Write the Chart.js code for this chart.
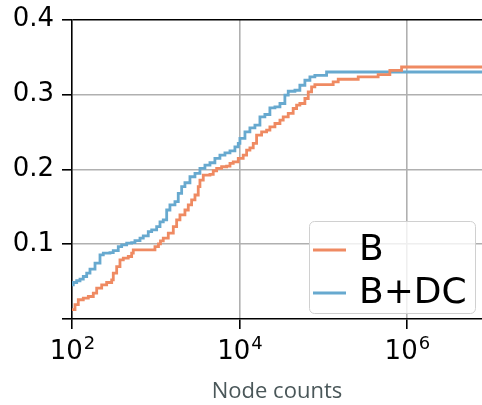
<!DOCTYPE html>
<html>
<head>
<meta charset="utf-8">
<script src="https://cdn.jsdelivr.net/npm/chart.js@4/dist/chart.umd.min.js"></script>
<style>
  html, body { margin: 0; padding: 0; background: #fff; }
  #wrap { width: 482px; height: 405px; }
</style>
</head>
<body>
<div id="wrap"><canvas id="chartNodos"></canvas></div>
<script>
// -------------------------------------------------------
// Datos (CDF de node counts)
// -------------------------------------------------------
const nodesB = [100, 108.6, 118.9, 136.4, 156.6, 179.6, 197.2, 226.3, 259.4, 297.9,
  311.3, 341.7, 374.2, 409.9, 470, 516, 539.5, 979.5, 1079, 1140, 1231, 1413, 1622,
  1778, 1948, 2234, 2449, 2685, 2944, 3221, 3375, 3698, 4446, 4867, 5346, 6124, 7031,
  7709, 8433, 9683, 11090, 12190, 13340, 14620, 16030, 18410, 21130, 23120, 26550,
  30480, 33340, 38280, 43850, 48190, 52720, 60530, 66370, 72780, 79620, 131800,
  151400, 262400, 454000, 626600, 864800, 7.9e6];
const cdfB = [0.0124, 0.0191, 0.0257, 0.028, 0.0301, 0.0347, 0.0413, 0.0457, 0.0488, 0.0524,
  0.0613, 0.0701, 0.0791, 0.0813, 0.0835, 0.088, 0.0924, 0.0968, 0.1004, 0.1044, 0.108,
  0.1147, 0.1235, 0.1324, 0.1391, 0.1457, 0.1524, 0.1591, 0.1657, 0.1768, 0.1857,
  0.1924, 0.1933, 0.1981, 0.2013, 0.2035, 0.2044, 0.208, 0.2101, 0.2147, 0.2191,
  0.2257, 0.2288, 0.2347, 0.2457, 0.2501, 0.2524, 0.2568, 0.2613, 0.2657, 0.2701,
  0.2747, 0.2813, 0.2857, 0.288, 0.2947, 0.3035, 0.3101, 0.3133, 0.3168, 0.3204,
  0.3235, 0.3267, 0.3324, 0.3368, 0.3368];

const nodesBDC = [100, 103.6, 113.8, 124.6, 136.4, 149.8, 164, 188.3, 216, 236.5, 284,
  311, 357, 392, 450, 516, 565, 649, 710, 815, 895, 1026, 1125, 1231, 1352, 1479, 1698,
  1859, 2041, 2234, 2564, 2944, 3375, 3873, 4446, 5093, 5848, 6714, 7709, 8831, 9683,
  10140, 11640, 13340, 15310, 17580, 20140, 23120, 26550, 30480, 34910, 38280, 46030,
  52720, 60530, 69500, 79620, 109900, 7.9e6];
const cdfBDC = [0.0457, 0.0488, 0.0511, 0.0533, 0.0568, 0.0613, 0.0667, 0.0747, 0.0857,
  0.088, 0.0888, 0.0915, 0.0968, 0.0991, 0.1013, 0.1021, 0.1048, 0.108, 0.111, 0.1168,
  0.119, 0.1235, 0.1297, 0.1324, 0.1457, 0.1524, 0.1568, 0.168, 0.1768, 0.1821, 0.1901,
  0.1947, 0.2013, 0.2057, 0.2088, 0.2147, 0.2191, 0.2221, 0.2248, 0.2301, 0.2347,
  0.2413, 0.2501, 0.2555, 0.2591, 0.2701, 0.2733, 0.2821, 0.2835, 0.288, 0.2991,
  0.3044, 0.3057, 0.3124, 0.3191, 0.3235, 0.3257, 0.3301, 0.3301];

const xTicks = [1e2, 1e4, 1e6];
const yTicks = [0, 0.1, 0.2, 0.3, 0.4];
const seriesLabels = ['B', 'B+DC'];

const colorB   = '#ef8a62';
const colorBDC = '#67a9cf';

// -------------------------------------------------------
// Etiquetas 10^n con exponente real (superíndice)
// -------------------------------------------------------
const etiquetasLog = {
  id: 'etiquetasLog',
  afterDraw(chart) {
    const { ctx } = chart;
    const sx = chart.scales.x;
    ctx.save();
    ctx.fillStyle = '#000';
    ctx.textBaseline = 'alphabetic';
    xTicks.forEach(v => {
      const px = sx.getPixelForValue(v);
      const base = '10', exp = String(Math.round(Math.log10(v)));
      ctx.font = '26px "DejaVu Sans"';
      const wb = ctx.measureText(base).width;
      ctx.font = '18px "DejaVu Sans"';
      const we = ctx.measureText(exp).width;
      const x0 = px - (wb + we) / 2;
      ctx.font = '26px "DejaVu Sans"';
      ctx.fillText(base, x0, 359);
      ctx.font = '18px "DejaVu Sans"';
      ctx.fillText(exp, x0 + wb + 1, 349);
    });
    ctx.restore();
  }
};

// -------------------------------------------------------
// Leyenda dentro del área (esquina inferior derecha)
// -------------------------------------------------------
const leyendaInterna = {
  id: 'leyendaInterna',
  afterDatasetsDraw(chart) {
    const { ctx, chartArea } = chart;
    const w = 166, h = 92;
    const x = chartArea.right - 7 - w, y = chartArea.bottom - 6 - h;
    ctx.save();
    ctx.beginPath();
    ctx.roundRect(x + 0.5, y + 0.5, w, h, 5);
    ctx.fillStyle = 'rgba(255,255,255,0.8)';
    ctx.fill();
    ctx.strokeStyle = '#d0d0d0';
    ctx.lineWidth = 1;
    ctx.stroke();
    ctx.font = '36px "DejaVu Sans"';
    ctx.textBaseline = 'middle';
    chart.data.datasets.forEach((ds, i) => {
      const cy = y + 29 + i * 43;
      ctx.strokeStyle = ds.borderColor;
      ctx.lineWidth = 2.8;
      ctx.beginPath();
      ctx.moveTo(x + 4, cy);
      ctx.lineTo(x + 37, cy);
      ctx.stroke();
      ctx.fillStyle = '#000';
      ctx.fillText(ds.label, x + 50, cy + 1);
    });
    ctx.restore();
  }
};

new Chart(document.getElementById('chartNodos'), {
  type: 'line',
  data: {
    datasets: [
      { label: seriesLabels[0], data: nodesB.map((v, i) => ({ x: v, y: cdfB[i] })),
        borderColor: colorB, backgroundColor: colorB },
      { label: seriesLabels[1], data: nodesBDC.map((v, i) => ({ x: v, y: cdfBDC[i] })),
        borderColor: colorBDC, backgroundColor: colorBDC }
    ]
  },
  options: {
    responsive: true,
    maintainAspectRatio: false,
    animation: false,
    layout: { padding: { top: 4, right: 0, left: 0, bottom: 0 } },
    elements: {
      line: { stepped: true, borderWidth: 2.8, fill: false, tension: 0 },
      point: { radius: 0 }
    },
    plugins: { legend: { display: false }, tooltip: { enabled: false } },
    scales: {
      x: {
        type: 'logarithmic',
        min: 100,
        max: 7.9e6,
        afterBuildTicks: s => { s.ticks = xTicks.map(v => ({ value: v })); },
        afterFit: s => { s.height = 86; },
        border: { color: '#000', width: 1.6 },
        grid: {
          color: c => c.tick && c.tick.value === 1e2 ? 'rgba(0,0,0,0)' : '#b0b0b0',
          lineWidth: 1.6,
          tickColor: '#000',
          tickWidth: 1.6,
          tickLength: 10
        },
        ticks: {
          color: '#000',
          font: { family: 'DejaVu Sans', size: 26 },
          padding: 2,
          maxRotation: 0,
          callback: () => ''
        },
        title: {
          display: true,
          text: 'Node counts',
          color: '#4a5759',
          font: { family: 'Open Sans', size: 22 },
          padding: { top: 40, bottom: 0 }
        }
      },
      y: {
        min: 0,
        max: 0.4,
        afterBuildTicks: s => { s.ticks = yTicks.map(v => ({ value: v })); },
        afterFit: s => { s.width = 72; },
        border: { color: '#000', width: 1.6 },
        grid: {
          color: c => c.tick.value === 0 ? 'rgba(0,0,0,0)' : (c.tick.value === 0.4 ? '#000' : '#b0b0b0'),
          lineWidth: 1.6,
          tickColor: '#000',
          tickWidth: 1.6,
          tickLength: 10
        },
        ticks: {
          color: '#000',
          font: { family: 'DejaVu Sans', size: 26, lineHeight: 0.9 },
          padding: 8,
          callback: v => v === 0 ? '' : v.toFixed(1)
        }
      }
    }
  },
  plugins: [leyendaInterna, etiquetasLog]
});
</script>
</body>
</html>
